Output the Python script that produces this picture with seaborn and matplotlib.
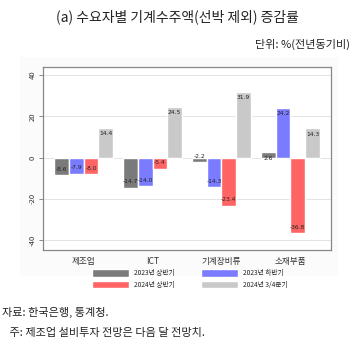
import matplotlib
matplotlib.use("Agg")
import matplotlib.pyplot as plt
import seaborn as sns
import pandas as pd
from matplotlib.patches import Rectangle

categories = ["제조업", "ICT", "기계장비류", "소재부품"]
periods = ["2023년 상반기", "2023년 하반기", "2024년 상반기", "2024년 3/4분기"]
v_2023h1 = [-8.6, -14.7, -2.2, 2.6]
v_2023h2 = [-7.9, -14.0, -14.3, 24.2]
v_2024h1 = [-8.0, -5.4, -23.4, -36.8]
v_2024q3 = [14.4, 24.5, 31.9, 14.3]
colors = ["#7a7a7a", "#7b7bff", "#ff6464", "#c9c9c9"]
yticks = [-40, -20, 0, 20, 40]

sns.set_style("white")
plt.rcParams['font.family'] = ['Noto Sans CJK KR', 'DejaVu Sans']

rows = []
for p, vals in zip(periods, [v_2023h1, v_2023h2, v_2024h1, v_2024q3]):
    for c, v in zip(categories, vals):
        rows.append({"cat": c, "period": p, "val": v})
df = pd.DataFrame(rows)

fig = plt.figure(figsize=(3.56, 3.52), dpi=100)
fig.patches.append(Rectangle((20/356, 1-276/352), 318/356, 219/352,
                             transform=fig.transFigure, facecolor="#fbfbfb",
                             edgecolor="none", zorder=-10))
ax = fig.add_axes([43/356, 1-250/352, 288/356, 183/352])

sns.barplot(data=df, x="cat", y="val", hue="period", order=categories,
            hue_order=periods, palette=colors, saturation=1, width=0.855,
            gap=0, ax=ax, legend=True, errorbar=None)

ax.set_xlim(-0.59, 3.59)
ax.set_ylim(-44.8, 43.9)
ax.set_yticks(yticks)
ax.set_yticklabels([str(t) for t in yticks], rotation=90, va="center",
                   fontsize=5.5, color="#333333")
ax.tick_params(axis="y", length=3, width=0.6, color="#777777", pad=1.5, left=True)
ax.tick_params(axis="x", length=0, labelsize=6.2, labelcolor="#333333", pad=5)
ax.set_xlabel("")
ax.set_ylabel("")
ax.grid(axis="y", color="#e4e4e4", linewidth=0.7)
ax.set_axisbelow(True)
for s in ax.spines.values():
    s.set_color("#888888")
    s.set_linewidth(0.9)

for cont in ax.containers:
    for patch in cont:
        h = patch.get_height()
        x = patch.get_x() + patch.get_width() / 2
        ax.annotate(f"{h:.1f}", (x, h), xytext=(0, -2.5 if h >= 0 else 2.5),
                    textcoords="offset points", ha="center",
                    va="top" if h >= 0 else "bottom",
                    fontsize=4.3, color="#222222", family="DejaVu Sans")

handles, labels = ax.get_legend_handles_labels()
ax.legend_.remove()
order = [0, 2, 1, 3]
fig.legend([handles[i] for i in order], [labels[i] for i in order],
           ncol=2, loc="center", bbox_to_anchor=(190/356, 1-279/352),
           frameon=False, fontsize=4.8, handlelength=5.5, handleheight=1.3,
           columnspacing=4.0, labelspacing=0.5, handletextpad=0.8)

fig.text(177/356, 1-17/352, "(a) 수요자별 기계수주액(선박 제외) 증감률",
         ha="center", va="center", fontsize=10, color="#222222")
fig.text(350/356, 1-44/352, "단위: %(전년동기비)", ha="right", va="center",
         fontsize=8, color="#222222")
fig.text(2/356, 1-312/352, "자료: 한국은행, 통계청.", ha="left", va="center",
         fontsize=8, color="#222222")
fig.text(2/356, 1-333/352, "   주: 제조업 설비투자 전망은 다음 달 전망치.", ha="left",
         va="center", fontsize=8, color="#222222")

fig.savefig("out.png", dpi=100)
